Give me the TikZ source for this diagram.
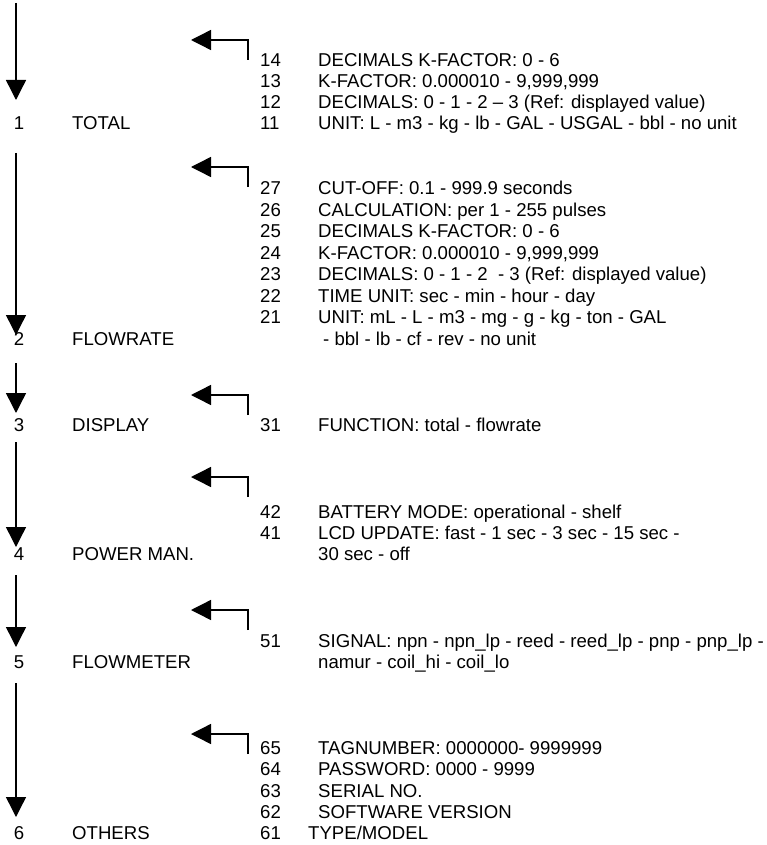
\documentclass[tikz,border=0pt]{standalone}
\usepackage{fontspec}
\setmainfont{Liberation Sans}
\usetikzlibrary{arrows.meta}

\begin{document}
\begin{tikzpicture}[x=1pt,y=-1pt,line join=miter,
    >={Triangle[length=20pt,width=20pt]},
    down/.style={line width=1.4pt,->},
    side/.style={line width=1.4pt,->},
    txt/.style={inner sep=0pt,anchor=base west,font=\fontsize{18.6}{21}\selectfont},
    num/.style={txt,anchor=base}]
\useasboundingbox (0,0) rectangle (766,845);
\coordinate (c0) at (16,3);
% main menu
\node[num] (n1) at (19,130) {1};   \node[txt] (t1) at (72,130) {TOTAL};
\node[num] (n2) at (19,345) {2};   \node[txt] (t2) at (72,345) {FLOWRATE};
\node[num] (n3) at (19,431) {3};   \node[txt] (t3) at (72,431) {DISPLAY};
\node[num] (n4) at (19,560) {4};   \node[txt] (t4) at (72,560) {POWER MAN.};
\node[num] (n5) at (19,668) {5};   \node[txt] (t5) at (72,668) {FLOWMETER};
\node[num] (n6) at (19,839) {6};   \node[txt] (t6) at (72,839) {OTHERS};
% sub menus
\foreach \k/\y/\s in {
    14/66.5/{DECIMALS K-FACTOR: 0 - 6},
    13/87.5/{K-FACTOR: 0.000010 - 9,999,999},
    12/109/{DECIMALS: 0 - 1 - 2 -- 3 (Ref: displayed value)},
    11/130/{UNIT: L - m3 - kg - lb - GAL - USGAL - bbl - no unit},
    27/194.5/{CUT-OFF: 0.1 - 999.9 seconds},
    26/216/{CALCULATION: per 1 - 255 pulses},
    25/237.5/{DECIMALS K-FACTOR: 0 - 6},
    24/259/{K-FACTOR: 0.000010 - 9,999,999},
    23/280.5/{DECIMALS: 0 - 1 - 2 \ - 3 (Ref: displayed value)},
    22/302/{TIME UNIT: sec - min - hour - day},
    21/323.5/{UNIT: mL - L - m3 - mg - g - kg - ton - GAL},
    31/431/{FUNCTION: total - flowrate},
    42/518/{BATTERY MODE: operational - shelf},
    41/539/{LCD UPDATE: fast - 1 sec - 3 sec - 15 sec -},
    51/647/{SIGNAL: npn - npn\_lp - reed - reed\_lp - pnp - pnp\_lp -},
    65/754/{TAGNUMBER: 0000000- 9999999},
    64/775/{PASSWORD: 0000 - 9999},
    63/797/{SERIAL NO.},
    62/818/{SOFTWARE VERSION}}{
  \node[txt] (o\k) at (260,\y) {\k};
  \node[txt] (d\k) at (318,\y) {\s};
}
\node[txt] (o61) at (260,839) {61};
\node[txt] (d61) at (308,839) {TYPE/MODEL};
\node[txt] (d21b) at (323,345) {- bbl - lb - cf - rev - no unit};
\node[txt] (d41b) at (318,560) {30 sec - off};
\node[txt] (d51b) at (318,668) {namur - coil\_hi - coil\_lo};
% arrows
\draw[down,shorten >=30pt] (c0) -- (n1.base -| c0);
\foreach \a/\b/\s/\e in {n1/n2/23/10,n2/n3/18/18,n3/n4/11/13,n4/n5/15/21,n5/n6/15/22}
  \draw[down,shorten <=\s pt,shorten >=\e pt] (\a.base -| c0) -- (\b.base -| c0);
\foreach \y in {60,187,415,497,630,754}
  \draw[side] (248,\y) -- ++(0,-20) -- ++(-57,0);
\end{tikzpicture}
\end{document}
